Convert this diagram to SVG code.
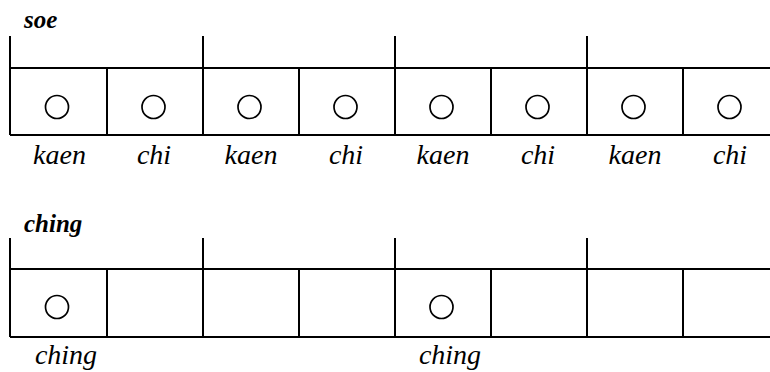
<svg xmlns="http://www.w3.org/2000/svg" width="770" height="372" viewBox="0 0 770 372">
<style>
.ln{stroke:#000;stroke-width:2;fill:none}
.dot{stroke:#000;stroke-width:1.7;fill:none}
.lab{font-family:'Liberation Serif','Times New Roman',serif;font-style:italic;font-size:28px;fill:#000;text-anchor:middle}
.hd{font-family:'Liberation Serif','Times New Roman',serif;font-style:italic;font-weight:bold;font-size:25px;fill:#000}
</style>
<rect width="770" height="372" fill="#fff"/>
<g id="soe">
<text class="hd" x="24" y="28">soe</text>
<g class="ln">
<path d="M10,36V135M203,36V68M395,36V68M587,36V68"/>
<path d="M10,68H770M10,135H770"/>
<path d="M107,68V135M203,68V135M299,68V135M395,68V135M491,68V135M587,68V135M683,68V135"/>
</g>
<g class="dot">
<circle cx="57" cy="107" r="11.5"/>
<circle cx="153.5" cy="107" r="11.5"/>
<circle cx="249.5" cy="107" r="11.5"/>
<circle cx="345.5" cy="107" r="11.5"/>
<circle cx="441.5" cy="107" r="11.5"/>
<circle cx="537.5" cy="107" r="11.5"/>
<circle cx="633.5" cy="107" r="11.5"/>
<circle cx="729.5" cy="107" r="11.5"/>
</g>
<text class="lab" x="59.5" y="164">kaen</text>
<text class="lab" x="154" y="164">chi</text>
<text class="lab" x="251" y="164">kaen</text>
<text class="lab" x="346" y="164">chi</text>
<text class="lab" x="443" y="164">kaen</text>
<text class="lab" x="538" y="164">chi</text>
<text class="lab" x="635" y="164">kaen</text>
<text class="lab" x="730" y="164">chi</text>
</g>
<g id="ching">
<text class="hd" x="24" y="232">ching</text>
<g class="ln">
<path d="M10,238V337M203,238V269M395,238V269M587,238V269"/>
<path d="M10,269H770M10,337H770"/>
<path d="M107,269V337M203,269V337M299,269V337M395,269V337M491,269V337M587,269V337M683,269V337"/>
</g>
<g class="dot">
<circle cx="57" cy="307" r="11.5"/>
<circle cx="441.5" cy="307" r="11.5"/>
</g>
<text class="lab" x="66" y="364">ching</text>
<text class="lab" x="450" y="364">ching</text>
</g>
</svg>
